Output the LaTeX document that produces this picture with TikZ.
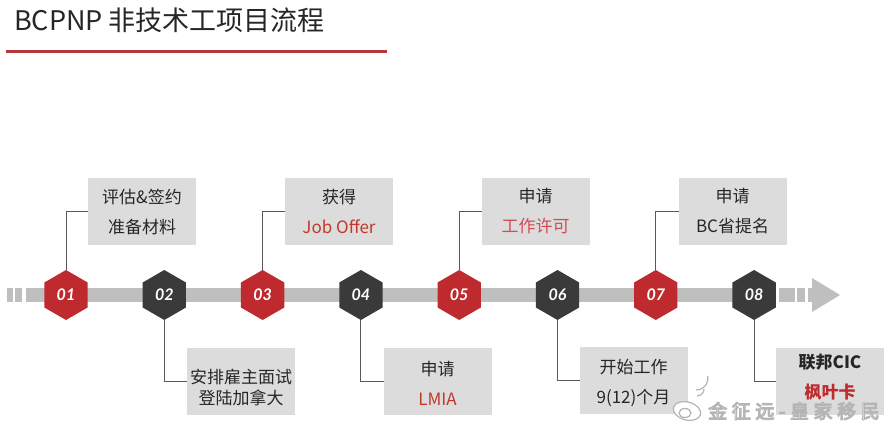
\documentclass[tikz,border=0pt]{standalone}
\usepackage{fontspec}
\setmainfont{Noto Sans CJK SC}
\newfontfamily\numfont{Lato}
\newfontfamily\wmfont[LetterSpace=24]{Noto Sans CJK SC}
\usetikzlibrary{shapes.geometric}
\definecolor{hexred}{HTML}{BF2A2E}
\definecolor{hexdark}{HTML}{3A3A3A}
\definecolor{bargray}{HTML}{BFBFBF}
\definecolor{boxgray}{HTML}{DCDCDC}
\definecolor{txt}{HTML}{262626}
\definecolor{redtxt}{HTML}{C0392B}
\definecolor{pinktxt}{HTML}{D24B55}
\definecolor{linegray}{HTML}{595959}
\definecolor{titlered}{HTML}{B5373B}
\definecolor{wmgray}{HTML}{B4B4B4}
\begin{document}
\begin{tikzpicture}[x=1pt,y=-1pt,
  hexnode/.style={regular polygon, regular polygon sides=6, shape border rotate=30,
    minimum size=50pt, inner sep=0pt, outer sep=0pt, text=white,
    font=\numfont\bfseries\itshape\fontsize{16}{16}\selectfont},
  hexr/.style={hexnode, fill=hexred},
  hexd/.style={hexnode, fill=hexdark},
  box/.style={fill=boxgray, minimum width=108pt, minimum height=67pt, inner sep=0pt, outer sep=0pt},
  boxtext/.style={align=center, text=txt, inner sep=0pt, font=\fontsize{17}{30}\selectfont},
  conn/.style={draw=linegray, line width=0.9pt},
  wm/.style={inner sep=0pt, font=\wmfont\fontsize{19}{19}\selectfont}
]
\useasboundingbox (0,0) rectangle (893,431);
% title
\node[anchor=base west, text=txt, inner sep=0pt, font=\fontsize{27}{27}\selectfont] (title) at (14,30) {BCPNP 非技术工项目流程};
\fill[titlered] (6,50) rectangle (387,53);
% bar
\fill[bargray] (7,288) rectangle (13,302);
\fill[bargray] (15,288) rectangle (22,302);
\fill[bargray] (26,288) rectangle (760,302);
\fill[bargray] (779,288) rectangle (795,302);
\fill[bargray] (797,288) rectangle (805,302);
\fill[bargray] (808,288) rectangle (813,302);
\fill[bargray] (812,278) -- (840,295) -- (812,312) -- cycle;
% hexagons
\node[hexr] (h1) at (66,295) {\raisebox{-3pt}{01}};
\node[hexd] (h2) at (164.3,295) {\raisebox{-3pt}{02}};
\node[hexr] (h3) at (262.6,295) {\raisebox{-3pt}{03}};
\node[hexd] (h4) at (360.9,295) {\raisebox{-3pt}{04}};
\node[hexr] (h5) at (459.2,295) {\raisebox{-3pt}{05}};
\node[hexd] (h6) at (557.5,295) {\raisebox{-3pt}{06}};
\node[hexr] (h7) at (655.8,295) {\raisebox{-3pt}{07}};
\node[hexd] (h8) at (754.1,295) {\raisebox{-3pt}{08}};
% top boxes
\node[box] (b1) at (142,211.5) {};
\node[box] (b3) at (339,211.5) {};
\node[box] (b5) at (535.5,211.5) {};
\node[box] (b7) at (732.5,211.5) {};
\node[boxtext] (t1) at (b1.center) {评估\&签约\\准备材料};
\node[boxtext] (t3) at (b3.center) {获得\\\textcolor{redtxt}{Job Offer}};
\node[boxtext] (t5) at (b5.center) {申请\\\textcolor{pinktxt}{工作许可}};
\node[boxtext] (t7) at (b7.center) {申请\\BC省提名};
% bottom boxes
\node[box] (b2) at (241,381.5) {};
\node[box] (b4) at (437.5,381.5) {};
\node[box] (b6) at (633.5,380.5) {};
\node[box] (b8) at (830,381) {};
\node[boxtext, font=\fontsize{17}{21}\selectfont] (t2) at ([yshift=-6pt]b2.center) {安排雇主面试\\登陆加拿大};
\node[boxtext] (t4) at ([yshift=-1.5pt]b4.center) {申请\\\textcolor{redtxt}{LMIA}};
\node[boxtext] (t6) at ([yshift=-2.5pt]b6.center) {开始工作\\9(12)个月};
\node[boxtext, font=\bfseries\fontsize{17}{30}\selectfont] (t8) at ([yshift=4pt]b8.center) {联邦CIC\\\textcolor{hexred}{枫叶卡}};
% connectors
\draw[conn] (h1.north) |- (b1.west);
\draw[conn] (h3.north) |- (b3.west);
\draw[conn] (h5.north) |- (b5.west);
\draw[conn] (h7.north) |- (b7.west);
\draw[conn] (h2.south) |- (b2.west);
\draw[conn] (h4.south) |- (b4.west);
\draw[conn] (h6.south) |- (b6.west);
\draw[conn] (h8.south) |- (b8.west);
% watermark
\begin{scope}[draw=wmgray, line width=1.2pt, fill=white]
  \filldraw[rotate around={-15:(687,411)}] (687,411) ellipse [x radius=14, y radius=9];
  \draw (685,413) ellipse [x radius=6, y radius=4.5];
  \draw (697,396) arc[start angle=90, end angle=0, radius=7];
  \draw (696,390) arc[start angle=90, end angle=-10, radius=12];
\end{scope}
\node[wm, text=white, anchor=west] (wm) at (708,411) {\special{pdf:literal direct 2 Tr 1.1 w 0.71 0.71 0.71 RG}金征远-皇家移民\special{pdf:literal direct 0 Tr}};
\end{tikzpicture}
\end{document}
